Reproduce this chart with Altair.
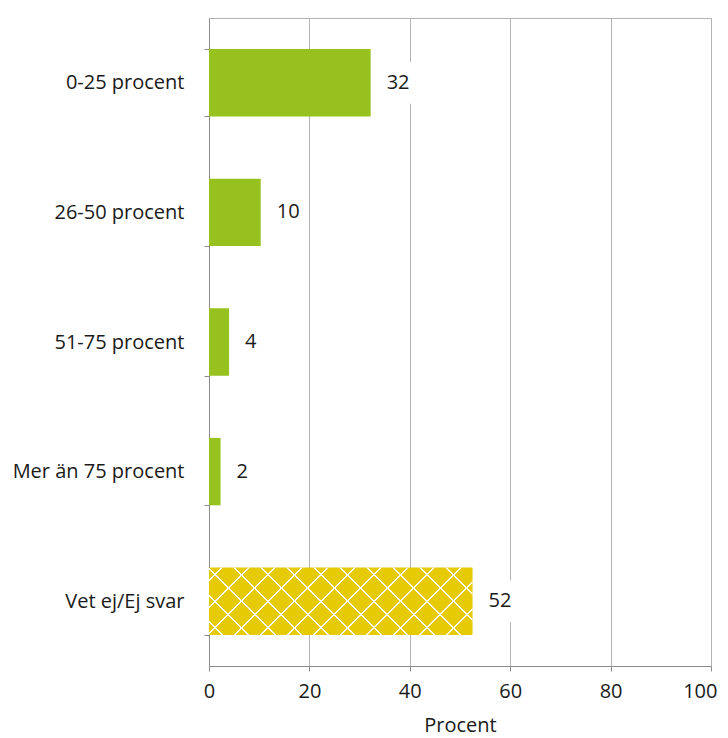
import altair as alt
import pandas as pd

categories = ["0-25 procent", "26-50 procent", "51-75 procent", "Mer än 75 procent", "Vet ej/Ej svar"]
values = [32.2, 10.3, 4.0, 2.3, 52.5]
labels = ["32", "10", "4", "2", "52"]
groups = ["svar", "svar", "svar", "svar", "vetej"]

PLOT_W = 502
PLOT_H = 648
PXU = PLOT_W / 100.0
FONT = "Open Sans"

df = pd.DataFrame({"cat": categories, "value": values, "label": labels, "group": groups})
df["box_lo"] = df["value"] + 10 / PXU
df["box_hi"] = df["value"] + (16 + df["label"].str.len() * 11.5 + 6) / PXU

PAD_IN = 0.48
PAD_OUT = 0.24
step = PLOT_H / (len(categories) - PAD_IN + 2 * PAD_OUT)
BAR_H = step * (1 - PAD_IN)


def hatch(value, direction, pitch=26.5, hw=1.1):
    W = value * PXU
    H = BAR_H
    L = W + H
    clear = "rgba(255,255,255,0)"
    white = "#ffffff"
    stops = [alt.GradientStop(offset=0, color=clear)]
    c = pitch / 2
    while c - hw < L:
        a = max(0.0, (c - hw) / L)
        b = min(1.0, (c + hw) / L)
        stops += [
            alt.GradientStop(offset=a, color=clear),
            alt.GradientStop(offset=a, color=white),
            alt.GradientStop(offset=b, color=white),
            alt.GradientStop(offset=b, color=clear),
        ]
        c += pitch
    stops.append(alt.GradientStop(offset=1, color=clear))
    r = H / W
    s = L / (W * (1 + r * r))
    if direction == 1:
        return alt.Gradient(gradient="linear", stops=stops, x1=0, y1=0, x2=s, y2=s * r)
    return alt.Gradient(gradient="linear", stops=stops, x1=0, y1=1, x2=s, y2=1 - s * r)


hatch_val = df.loc[df["group"] == "vetej", "value"].iloc[0]

y_enc = alt.Y(
    "cat:N",
    sort=categories,
    title=None,
    scale=alt.Scale(paddingInner=PAD_IN, paddingOuter=PAD_OUT),
    axis=alt.Axis(
        tickBand="extent",
        domainColor="#8c8c8c",
        tickColor="#8c8c8c",
        tickSize=5,
        labelPadding=20,
        labelFontSize=20,
        labelFont=FONT,
        labelColor="#1a1a1a",
        labelLimit=300,
        grid=False,
    ),
)

x_enc = alt.X(
    "value:Q",
    title="Procent",
    scale=alt.Scale(domain=[0, 100], nice=False),
    axis=alt.Axis(
        values=[0, 20, 40, 60, 80, 100],
        grid=True,
        gridColor="#b3b3b3",
        domainColor="#8c8c8c",
        tickColor="#8c8c8c",
        tickSize=5,
        labelFlush=False,
        labelAlign={"condition": {"test": "datum.value == 100", "value": "right"}, "value": "center"},
        labelOffset={"condition": {"test": "datum.value == 100", "value": 6}, "value": 0},
        labelFontSize=20,
        labelFont=FONT,
        labelColor="#1a1a1a",
        labelPadding=10,
        titleFontSize=20,
        titleFont=FONT,
        titleFontWeight="normal",
        titleColor="#1a1a1a",
        titlePadding=14,
    ),
)

base = alt.Chart(df)

bars = base.mark_bar().encode(
    y=y_enc,
    x=x_enc,
    color=alt.Color(
        "group:N",
        scale=alt.Scale(domain=["svar", "vetej"], range=["#97c11f", "#e6cb04"]),
        legend=None,
    ),
)

hatch1 = base.transform_filter(alt.datum.group == "vetej").mark_bar(
    fill=hatch(hatch_val, 1)
).encode(y=y_enc, x=x_enc)

hatch2 = base.transform_filter(alt.datum.group == "vetej").mark_bar(
    fill=hatch(hatch_val, 2)
).encode(y=y_enc, x=x_enc)

boxes = base.mark_bar(color="white", height=42).encode(
    y=y_enc,
    x=alt.X("box_lo:Q"),
    x2="box_hi:Q",
)

texts = base.mark_text(
    align="left", baseline="middle", dx=16, fontSize=20, font=FONT, color="#1a1a1a"
).encode(y=y_enc, x=x_enc, text="label:N")

chart = (
    alt.layer(bars, hatch1, hatch2, boxes, texts)
    .properties(
        width=PLOT_W,
        height=PLOT_H,
        padding={"left": 4, "top": 0, "right": 0, "bottom": 2},
        background="white",
    )
    .configure_view(stroke="#b3b3b3")
)

chart.save("out.html", embed_options={"renderer": "svg", "actions": False})
